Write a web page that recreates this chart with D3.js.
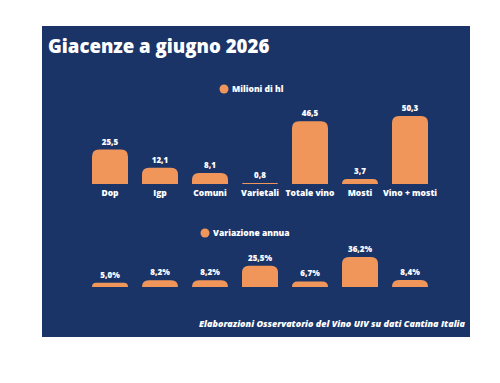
<!DOCTYPE html>
<head>
    <meta charset="utf-8" />
    <title>Giacenze a giugno 2026</title>
</head>
<style>
    body {
        margin: 0;
        background-color: #ffffff;
    }
    text {
        font-family: "Open Sans", sans-serif;
        fill: #ffffff;
    }
</style>
<body>
    <svg id="chart" width="500" height="383"></svg>
    <script src="https://d3js.org/d3.v7.min.js"></script>
    <script>
        var categories = ["Dop", "Igp", "Comuni", "Varietali", "Totale vino", "Mosti", "Vino + mosti"];
        var stocks = [25.5, 12.1, 8.1, 0.8, 46.5, 3.7, 50.3];
        var change = [5.0, 8.2, 8.2, 25.5, 6.7, 36.2, 8.4];

        var navy = "#1b3468",
            orange = "#f0965b";

        var svg = d3.select("#chart");

        svg.append("rect")
            .attr("x", 42).attr("y", 26)
            .attr("width", 428).attr("height", 311)
            .attr("fill", navy);

        svg.append("text")
            .attr("x", 48).attr("y", 53)
            .attr("font-size", "18.6px")
            .attr("font-weight", 800)
            .text("Giacenze a giugno 2026");

        var fmt = function(v) { return d3.format(".1f")(v).replace(".", ","); };

        var x = d3.scaleBand().domain(categories).range([85, 435]).paddingInner(0.28).paddingOuter(0.14);

        // top-rounded bar path
        function barPath(x0, w, yTop, yBase, r) {
            var h = yBase - yTop;
            r = Math.min(r, h, w / 2);
            return "M" + x0 + "," + yBase +
                "V" + (yTop + r) +
                "Q" + x0 + "," + yTop + " " + (x0 + r) + "," + yTop +
                "H" + (x0 + w - r) +
                "Q" + (x0 + w) + "," + yTop + " " + (x0 + w) + "," + (yTop + r) +
                "V" + yBase + "Z";
        }

        function drawPanel(values, yScale, label, legendX, legendY, suffix, showCats) {
            var g = svg.append("g");
            g.append("circle").attr("cx", legendX).attr("cy", legendY).attr("r", 4.5).attr("fill", orange);
            g.append("text").attr("x", legendX + 8).attr("y", legendY + 3)
                .attr("font-size", "8.5px").attr("font-weight", 800).text(label);

            g.selectAll(".bar").data(values).enter().append("path")
                .attr("fill", orange)
                .attr("d", function(d, i) {
                    return barPath(x(categories[i]), x.bandwidth(), yScale(d), yScale(0), 7);
                });

            g.selectAll(".val").data(values).enter().append("text")
                .attr("x", function(d, i) { return x(categories[i]) + x.bandwidth() / 2; })
                .attr("y", function(d) { return yScale(d) - 5; })
                .attr("text-anchor", "middle")
                .attr("font-size", "8px")
                .attr("font-weight", 800)
                .text(function(d) { return fmt(d) + suffix; });

            if (showCats) {
                g.selectAll(".cat").data(categories).enter().append("text")
                    .attr("x", function(d) { return x(d) + x.bandwidth() / 2; })
                    .attr("y", yScale(0) + 12)
                    .attr("text-anchor", "middle")
                    .attr("font-size", "8.5px")
                    .attr("font-weight", 800)
                    .text(function(d) { return d; });
            }
        }

        var y1 = d3.scaleLinear().domain([0, 50.3]).range([184, 116]);
        var y2 = d3.scaleLinear().domain([0, 36.2]).range([287, 257]);

        drawPanel(stocks, y1, "Milioni di hl", 224, 89, "", true);
        drawPanel(change, y2, "Variazione annua", 205, 233, "%", false);

        svg.append("text")
            .attr("x", 465).attr("y", 327)
            .attr("text-anchor", "end")
            .attr("font-size", "9px")
            .attr("font-weight", 800)
            .attr("font-style", "italic")
            .text("Elaborazioni Osservatorio del Vino UIV su dati Cantina Italia");
    </script>
</body>
